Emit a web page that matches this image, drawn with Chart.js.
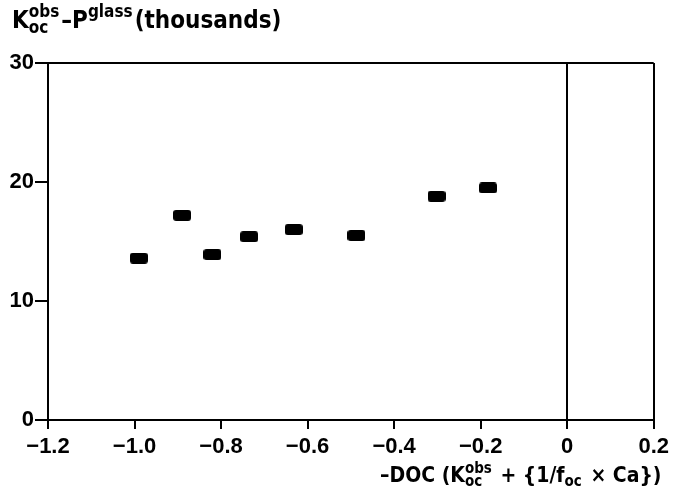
<!DOCTYPE html>
<html>
<head>
<meta charset="utf-8">
<script src="https://cdn.jsdelivr.net/npm/chart.js@4.4.1/dist/chart.umd.min.js"></script>
<style>
  html, body { margin: 0; padding: 0; background: #fff; }
  #wrap { width: 674px; height: 492px; }
</style>
</head>
<body>
<div id="wrap"><canvas id="grafico"></canvas></div>
<script>
// valores
const docValores = [-0.99, -0.89, -0.82, -0.735, -0.632, -0.487, -0.302, -0.183]
const kocValores = [13.6, 17.2, 13.9, 15.4, 16.0, 15.5, 18.8, 19.5]
const xTicks = [-1.2, -1.0, -0.8, -0.6, -0.4, -0.2, 0, 0.2]
const xTickLabels = ['\u22121.2', '\u22121.0', '\u22120.8', '\u22120.6', '\u22120.4', '\u22120.2', '0', '0.2']
const yTicks = [0, 10, 20, 30]

const FONTE_TEXTO = '"DejaVu Sans Condensed", "DejaVu Sans", sans-serif'
const FONTE_TICKS = '"Liberation Sans", Arial, sans-serif'

// marcador: retângulo preto arredondado
const marcador = document.createElement('canvas')
marcador.width = 18
marcador.height = 11
;(function () {
  const c = marcador.getContext('2d')
  c.fillStyle = '#000'
  c.beginPath()
  c.roundRect(0, 0, 18, 11, 3)
  c.fill()
})()

// texto com sub/sobrescrito
function desenharTexto(ctx, x, y, partes, tam) {
  const normal = `bold ${tam}px ${FONTE_TEXTO}`
  const pequeno = `bold ${Math.round(tam * 0.72)}px ${FONTE_TEXTO}`
  ctx.textBaseline = 'alphabetic'
  ctx.textAlign = 'left'
  ctx.fillStyle = '#000'
  partes.forEach(p => {
    if (typeof p === 'string') {
      ctx.font = normal
      ctx.fillText(p, x, y)
      x += ctx.measureText(p).width
    } else {
      ctx.font = pequeno
      let w = 0
      if (p.sup) {
        ctx.fillText(p.sup, x, y - tam * 0.45)
        w = Math.max(w, ctx.measureText(p.sup).width)
      }
      if (p.sub) {
        ctx.fillText(p.sub, x, y + tam * 0.2)
        w = Math.max(w, ctx.measureText(p.sub).width)
      }
      x += w + 2
    }
  })
}

const textos = {
  id: 'textos',
  afterDraw(chart) {
    const ctx = chart.ctx
    ctx.save()
    desenharTexto(ctx, 12, 28, ['K', { sub: 'oc', sup: 'obs' }, '\u2013P', { sup: 'glass' }, '(thousands)'], 24)
    desenharTexto(ctx, 380, 482, ['\u2013DOC (K', { sub: 'oc', sup: 'obs' }, ' + {1/f', { sub: 'oc' }, ' \u00d7 Ca})'], 21)
    ctx.restore()
  }
}

new Chart(document.getElementById('grafico'), {
  type: 'scatter',
  data: {
    datasets: [{
      data: docValores.map((v, i) => ({ x: v, y: kocValores[i] })),
      pointStyle: marcador,
      pointRadius: 9,
      pointHoverRadius: 9
    }]
  },
  options: {
    responsive: true,
    maintainAspectRatio: false,
    animation: false,
    events: [],
    layout: { padding: { top: 63, right: 19, left: 0, bottom: 0 } },
    plugins: { legend: { display: false }, tooltip: { enabled: false } },
    scales: {
      x: {
        type: 'linear',
        min: -1.2,
        max: 0.2,
        afterFit: s => { s.height = 72 },
        afterBuildTicks: s => { s.ticks = xTicks.map(v => ({ value: v })) },
        ticks: {
          color: '#000',
          font: { family: FONTE_TICKS, size: 22, weight: 'bold' },
          padding: 5,
          maxRotation: 0,
          callback: (v, i) => xTickLabels[i]
        },
        grid: {
          color: c => (c.tick && (c.tick.value === 0 || c.tick.value === 0.2)) ? '#000' : 'rgba(0,0,0,0)',
          lineWidth: 2,
          tickColor: '#000',
          tickLength: 9
        },
        border: { display: true, color: '#000', width: 2 }
      },
      y: {
        type: 'linear',
        min: 0,
        max: 30,
        afterFit: s => { s.width = 48 },
        afterBuildTicks: s => { s.ticks = yTicks.map(v => ({ value: v })) },
        ticks: {
          color: '#000',
          font: { family: FONTE_TICKS, size: 22, weight: 'bold' },
          padding: 1
        },
        grid: {
          color: c => (c.tick && c.tick.value === 30) ? '#000' : 'rgba(0,0,0,0)',
          lineWidth: 2,
          tickColor: '#000',
          tickLength: 13
        },
        border: { display: true, color: '#000', width: 2 }
      }
    }
  },
  plugins: [textos]
})
</script>
</body>
</html>
